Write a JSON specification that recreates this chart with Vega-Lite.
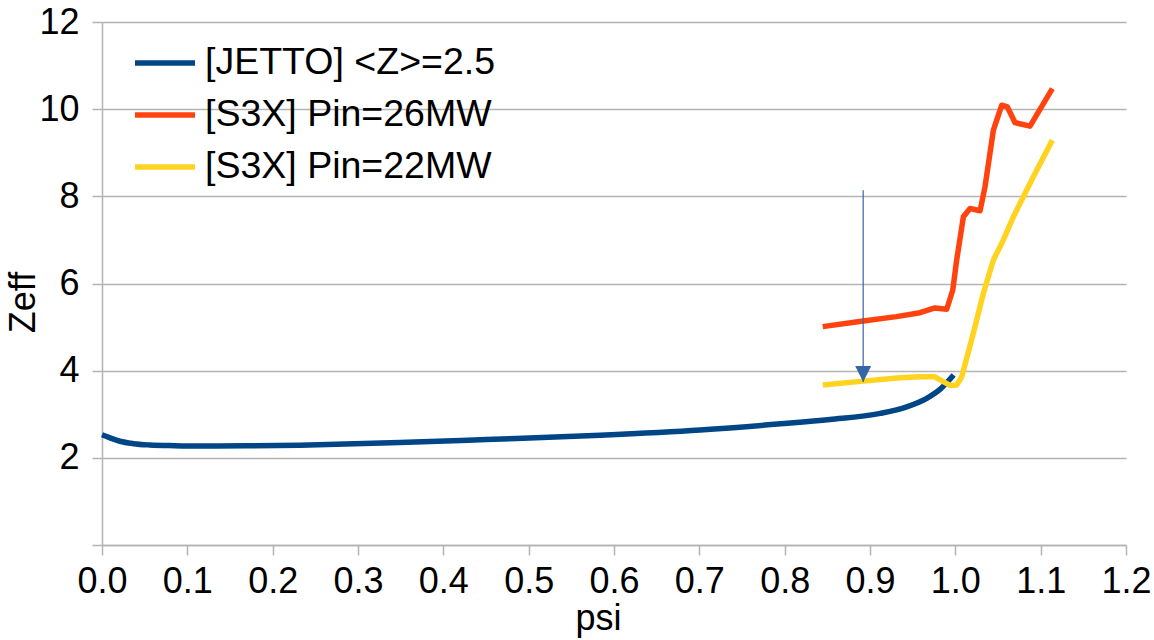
{
  "$schema": "https://vega.github.io/schema/vega-lite/v6.json",
  "width": 1024,
  "height": 523,
  "autosize": "none",
  "padding": {"left": 102, "top": 22, "right": 28, "bottom": 95},
  "background": "white",
  "config": {
    "view": {"stroke": null},
    "font": "Liberation Sans",
    "axis": {
      "labelFont": "Liberation Sans",
      "titleFont": "Liberation Sans",
      "labelFontSize": 36,
      "titleFontSize": 36,
      "labelColor": "black",
      "titleColor": "black",
      "titleFontWeight": "normal",
      "domainColor": "#b3b3b3",
      "tickColor": "#b3b3b3",
      "gridColor": "#b3b3b3",
      "domainWidth": 1.5,
      "tickWidth": 1.5,
      "gridWidth": 1.5,
      "tickSize": 10,
      "labelFlush": false,
      "labelOverlap": false
    }
  },
  "datasets": {
    "lines": [
      {"s": "[JETTO] <Z>=2.5", "psi": 0.000, "zeff": 2.53},
      {"s": "[JETTO] <Z>=2.5", "psi": 0.008, "zeff": 2.47},
      {"s": "[JETTO] <Z>=2.5", "psi": 0.021, "zeff": 2.38},
      {"s": "[JETTO] <Z>=2.5", "psi": 0.037, "zeff": 2.325},
      {"s": "[JETTO] <Z>=2.5", "psi": 0.056, "zeff": 2.295},
      {"s": "[JETTO] <Z>=2.5", "psi": 0.085, "zeff": 2.278},
      {"s": "[JETTO] <Z>=2.5", "psi": 0.115, "zeff": 2.27},
      {"s": "[JETTO] <Z>=2.5", "psi": 0.170, "zeff": 2.275},
      {"s": "[JETTO] <Z>=2.5", "psi": 0.232, "zeff": 2.29},
      {"s": "[JETTO] <Z>=2.5", "psi": 0.349, "zeff": 2.35},
      {"s": "[JETTO] <Z>=2.5", "psi": 0.450, "zeff": 2.42},
      {"s": "[JETTO] <Z>=2.5", "psi": 0.584, "zeff": 2.52},
      {"s": "[JETTO] <Z>=2.5", "psi": 0.701, "zeff": 2.64},
      {"s": "[JETTO] <Z>=2.5", "psi": 0.795, "zeff": 2.78},
      {"s": "[JETTO] <Z>=2.5", "psi": 0.853, "zeff": 2.88},
      {"s": "[JETTO] <Z>=2.5", "psi": 0.912, "zeff": 3.02},
      {"s": "[JETTO] <Z>=2.5", "psi": 0.943, "zeff": 3.17},
      {"s": "[JETTO] <Z>=2.5", "psi": 0.966, "zeff": 3.36},
      {"s": "[JETTO] <Z>=2.5", "psi": 0.982, "zeff": 3.57},
      {"s": "[JETTO] <Z>=2.5", "psi": 0.998, "zeff": 3.90},

      {"s": "[S3X] Pin=26MW", "psi": 0.8446, "zeff": 5.01},
      {"s": "[S3X] Pin=26MW", "psi": 0.892, "zeff": 5.14},
      {"s": "[S3X] Pin=26MW", "psi": 0.931, "zeff": 5.24},
      {"s": "[S3X] Pin=26MW", "psi": 0.9586, "zeff": 5.33},
      {"s": "[S3X] Pin=26MW", "psi": 0.976, "zeff": 5.44},
      {"s": "[S3X] Pin=26MW", "psi": 0.9899, "zeff": 5.41},
      {"s": "[S3X] Pin=26MW", "psi": 0.997, "zeff": 5.85},
      {"s": "[S3X] Pin=26MW", "psi": 1.0016, "zeff": 6.54},
      {"s": "[S3X] Pin=26MW", "psi": 1.0094, "zeff": 7.53},
      {"s": "[S3X] Pin=26MW", "psi": 1.0172, "zeff": 7.72},
      {"s": "[S3X] Pin=26MW", "psi": 1.029, "zeff": 7.67},
      {"s": "[S3X] Pin=26MW", "psi": 1.0348, "zeff": 8.22},
      {"s": "[S3X] Pin=26MW", "psi": 1.0446, "zeff": 9.52},
      {"s": "[S3X] Pin=26MW", "psi": 1.0544, "zeff": 10.09},
      {"s": "[S3X] Pin=26MW", "psi": 1.061, "zeff": 10.05},
      {"s": "[S3X] Pin=26MW", "psi": 1.07, "zeff": 9.69},
      {"s": "[S3X] Pin=26MW", "psi": 1.0875, "zeff": 9.61},
      {"s": "[S3X] Pin=26MW", "psi": 1.1137, "zeff": 10.47},

      {"s": "[S3X] Pin=22MW", "psi": 0.8446, "zeff": 3.67},
      {"s": "[S3X] Pin=22MW", "psi": 0.892, "zeff": 3.76},
      {"s": "[S3X] Pin=22MW", "psi": 0.935, "zeff": 3.84},
      {"s": "[S3X] Pin=22MW", "psi": 0.9586, "zeff": 3.86},
      {"s": "[S3X] Pin=22MW", "psi": 0.976, "zeff": 3.86},
      {"s": "[S3X] Pin=22MW", "psi": 0.9938, "zeff": 3.66},
      {"s": "[S3X] Pin=22MW", "psi": 1.0016, "zeff": 3.67},
      {"s": "[S3X] Pin=22MW", "psi": 1.0075, "zeff": 3.86},
      {"s": "[S3X] Pin=22MW", "psi": 1.0211, "zeff": 4.86},
      {"s": "[S3X] Pin=22MW", "psi": 1.0328, "zeff": 5.77},
      {"s": "[S3X] Pin=22MW", "psi": 1.0446, "zeff": 6.54},
      {"s": "[S3X] Pin=22MW", "psi": 1.0563, "zeff": 7.00},
      {"s": "[S3X] Pin=22MW", "psi": 1.068, "zeff": 7.53},
      {"s": "[S3X] Pin=22MW", "psi": 1.0914, "zeff": 8.45},
      {"s": "[S3X] Pin=22MW", "psi": 1.1137, "zeff": 9.29}
    ],
    "arrow": [
      {"psi": 0.892, "top": 8.14, "tip": 3.74}
    ]
  },
  "layer": [
    {
      "data": {"name": "lines"},
      "transform": [{"filter": "datum.s == '[JETTO] <Z>=2.5'"}],
      "mark": {"type": "line", "strokeWidth": 5.5, "interpolate": "monotone", "strokeCap": "butt"},
      "encoding": {
        "x": {
          "field": "psi", "type": "quantitative",
          "scale": {"domain": [0, 1.2], "nice": false, "zero": false},
          "axis": {
            "title": "psi", "grid": false, "format": ".1f",
            "values": [0, 0.1, 0.2, 0.3, 0.4, 0.5, 0.6, 0.7, 0.8, 0.9, 1.0, 1.1, 1.2],
            "labelPadding": 9,
            "titleX": 496, "titleY": 84, "titleBaseline": "alphabetic", "titleAnchor": null
          }
        },
        "y": {
          "field": "zeff", "type": "quantitative",
          "scale": {"domain": [0, 12], "nice": false},
          "axis": {
            "title": "Zeff", "grid": true,
            "values": [0, 2, 4, 6, 8, 10, 12],
            "labelExpr": "datum.value == 0 ? '' : datum.label",
            "labelPadding": 13,
            "titleX": -60, "titleY": 280, "titleAnchor": null
          }
        },
        "color": {
          "field": "s", "type": "nominal",
          "scale": {
            "domain": ["[JETTO] <Z>=2.5", "[S3X] Pin=26MW", "[S3X] Pin=22MW"],
            "range": ["#004586", "#ff420e", "#ffd320"]
          },
          "legend": {
            "title": null,
            "orient": "none",
            "legendX": 30,
            "legendY": 8,
            "symbolType": "stroke",
            "symbolSize": 3600,
            "symbolStrokeWidth": 5.5,
            "labelFont": "Liberation Sans",
            "labelFontSize": 37.5,
            "labelColor": "black",
            "labelOffset": 7,
            "rowPadding": -18,
            "labelLimit": 0
          }
        }
      }
    },
    {
      "data": {"name": "lines"},
      "transform": [{"filter": "datum.s != '[JETTO] <Z>=2.5'"}],
      "mark": {"type": "line", "strokeWidth": 5.5, "strokeCap": "butt", "strokeJoin": "round"},
      "encoding": {
        "x": {"field": "psi", "type": "quantitative"},
        "y": {"field": "zeff", "type": "quantitative"},
        "color": {"field": "s", "type": "nominal"}
      }
    },
    {
      "data": {"name": "arrow"},
      "mark": {"type": "rule", "color": "#3465a4", "strokeWidth": 1.2},
      "encoding": {
        "x": {"field": "psi", "type": "quantitative"},
        "y": {"field": "top", "type": "quantitative"},
        "y2": {"field": "tip"}
      }
    },
    {
      "data": {"name": "arrow"},
      "mark": {"type": "point", "shape": "M-1,-1L1,-1L0,1Z", "filled": true, "color": "#3465a4", "opacity": 1, "size": 256, "yOffset": -8},
      "encoding": {
        "x": {"field": "psi", "type": "quantitative"},
        "y": {"field": "tip", "type": "quantitative"}
      }
    }
  ]
}
